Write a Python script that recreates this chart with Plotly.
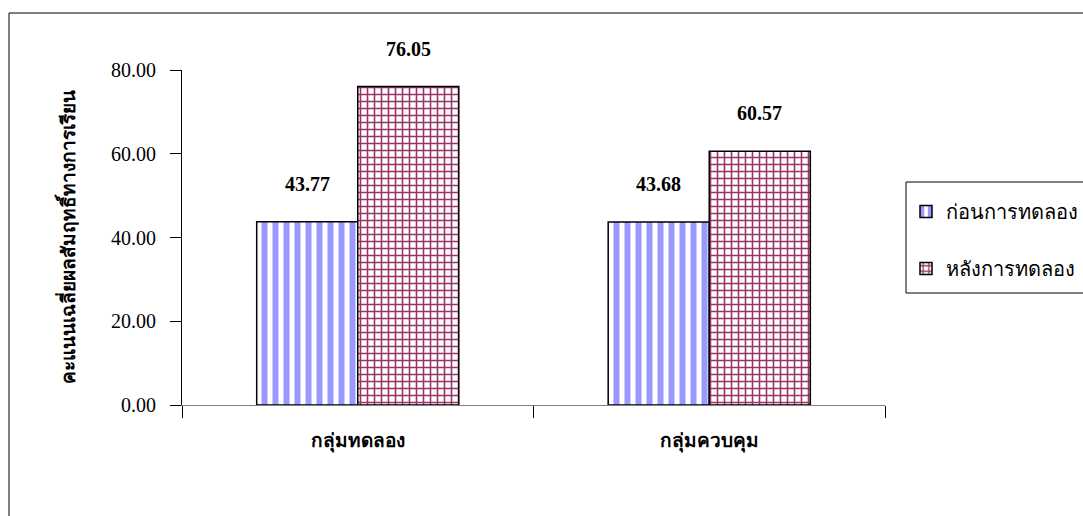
import plotly.graph_objects as go

categories = ["กลุ่มทดลอง", "กลุ่มควบคุม"]
series_names = ["ก่อนการทดลอง", "หลังการทดลอง"]
before_vals = [43.77, 43.68]
after_vals = [76.05, 60.57]
y_ticks = [0, 20, 40, 60, 80]
y_title = "คะแนนเฉลี่ยผลสัมฤทธิ์ทางการเรียน"

W, H = 1083, 516
L, R, T, B = 182, 198, 70, 111
pw, ph = W - L - R, H - T - B

serif = "Liberation Serif, Times New Roman, serif"

fig = go.Figure()
fig.add_trace(go.Bar(
    x=categories, y=before_vals, name=series_names[0], legendgroup="g1",
    marker=dict(color="white", line=dict(color="black", width=1.5),
                pattern=dict(shape="|", fgcolor="#9999FF", bgcolor="white",
                             fgopacity=1, size=11, solidity=0.55)),
))
fig.add_trace(go.Bar(
    x=categories, y=after_vals, name=series_names[1], legendgroup="g2",
    marker=dict(color="white", line=dict(color="black", width=1.5),
                pattern=dict(shape="+", fgcolor="#993366", bgcolor="white",
                             fgopacity=1, size=7, solidity=0.4)),
))

# value labels above bars
bar_w = 101
for vals, sh in [(before_vals, -bar_w / 2), (after_vals, bar_w / 2)]:
    for c, v in zip(categories, vals):
        fig.add_annotation(x=c, y=v, text=f"<b>{v:.2f}</b>", showarrow=False,
                           xshift=sh, yshift=38, font=dict(family=serif, size=20, color="black"))


def px2x(px):
    return (px - L) / pw


def px2y(py):
    return (H - B - py) / ph


# outer border
fig.add_shape(type="rect", xref="paper", yref="paper",
              x0=px2x(9), x1=px2x(1095), y0=px2y(525), y1=px2y(13),
              line=dict(color="black", width=1), fillcolor="rgba(0,0,0,0)", layer="below")
# legend border
fig.add_shape(type="rect", xref="paper", yref="paper",
              x0=px2x(906), x1=px2x(1095), y0=px2y(293), y1=px2y(182),
              line=dict(color="black", width=1), fillcolor="white", layer="below")

fig.update_layout(
    width=W, height=H,
    margin=dict(l=L, r=R, t=T, b=B, autoexpand=False),
    paper_bgcolor="white", plot_bgcolor="white",
    barmode="group", bargap=0.425, bargroupgap=0,
    font=dict(family=serif, color="black"),
    showlegend=True,
    legend=dict(x=px2x(906), xanchor="left", y=px2y(192), yanchor="top",
                borderwidth=0, bgcolor="rgba(0,0,0,0)",
                font=dict(family=serif, size=20, color="black"),
                tracegroupgap=28, itemwidth=30),
    xaxis=dict(showline=True, linecolor="#808080", linewidth=1, ticks="outside",
               tickson="boundaries", ticklen=12, tickcolor="black",
               tickfont=dict(family=serif, size=19, color="black", weight="bold"),
               ticklabelstandoff=18, showgrid=False),
    yaxis=dict(range=[0, 80], tickvals=y_ticks, tickformat=".2f",
               showline=True, linecolor="black", linewidth=1, ticks="outside",
               ticklen=11, tickcolor="black", showgrid=False, zeroline=False,
               ticklabelstandoff=10,
               tickfont=dict(family=serif, size=20, color="black"),
               title=dict(text=f"<b>{y_title}</b>", standoff=30,
                          font=dict(family=serif, size=19, color="black"))),
)

fig.write_html("out.html")
